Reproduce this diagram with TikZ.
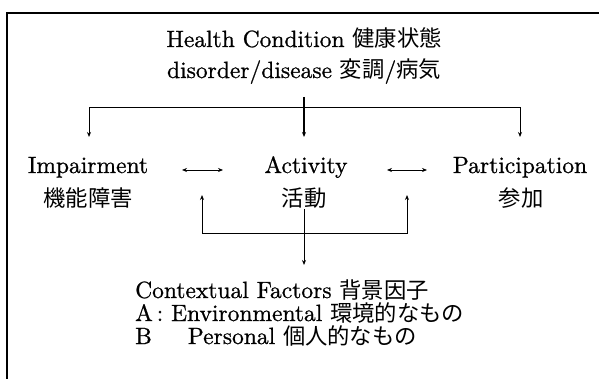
\documentclass[tikz,border=0pt]{standalone}
\usepackage{fontspec}
\setmainfont{lmroman10-regular.otf}[RawFeature={embolden=0.8}]
\newfontfamily\jp[Scale=0.95]{Noto Sans CJK JP}
\usetikzlibrary{arrows.meta}
\begin{document}
\begin{tikzpicture}[x=1pt,y=-1pt]
\tikzstyle{every node}+=[inner sep=0pt,anchor=base,font=\fontsize{23.5}{28}\selectfont]
\tikzstyle{tip}=[-{Stealth[length=5pt,width=4pt]}]
\tikzstyle{tips}=[{Stealth[length=5pt,width=4pt]}-{Stealth[length=5pt,width=4pt]}]
\useasboundingbox (0,0) rectangle (599,379);
\draw [line width=1.3pt] (7,379) -- (7,13) -- (599,13);
\node (hc1) at (304,47) {Health Condition {\jp 健康状態}};
\node (hc2) at (304,78) {disorder/disease {\jp 変調}/{\jp 病気}};
\node (imp) at (88,173) {Impairment};
\node (act) at (306,173) {Activity};
\node (par) at (520,173) {Participation};
\node (impj) at (88,207) {\jp 機能障害};
\node (actj) at (304,207) {\jp 活動};
\node (parj) at (521,207) {\jp 参加};
\node [anchor=base west] (cf) at (135,298) {Contextual Factors {\jp 背景因子}};
\node [anchor=base west] (cfa) at (135,321) {A\,: Environmental {\jp 環境的なもの}};
\node [anchor=base west] (cfb) at (135,344) {B\hspace{36pt}Personal {\jp 個人的なもの}};
\coordinate (hcb) at (304,97);
\coordinate (tm) at (304,137);
\coordinate (tl) at (89,137);
\coordinate (bl) at (89,107);
\coordinate (br) at (520,107);
\coordinate (tr) at (520,137);
\coordinate (ul) at (202,195);
\coordinate (ulb) at (202,233);
\coordinate (urb) at (407,233);
\coordinate (ur) at (407,195);
\coordinate (cft) at (304,265);
\coordinate (la) at (182,170);
\coordinate (lb) at (223,170);
\coordinate (ra) at (387,170);
\coordinate (rb) at (427,170);
\draw [tip,line width=1.3pt] (hcb) -- (tm);
\draw [tips,line width=0.9pt] (tl) -- (bl) -- (br) -- (tr);
\draw [tips,line width=0.9pt] (ul) -- (ulb) -- (urb) -- (ur);
\draw [tip,line width=0.9pt] (actj.south) -- (cft);
\draw [tips,line width=0.7pt] (la) -- (lb);
\draw [tips,line width=0.7pt] (ra) -- (rb);
\end{tikzpicture}
\end{document}
